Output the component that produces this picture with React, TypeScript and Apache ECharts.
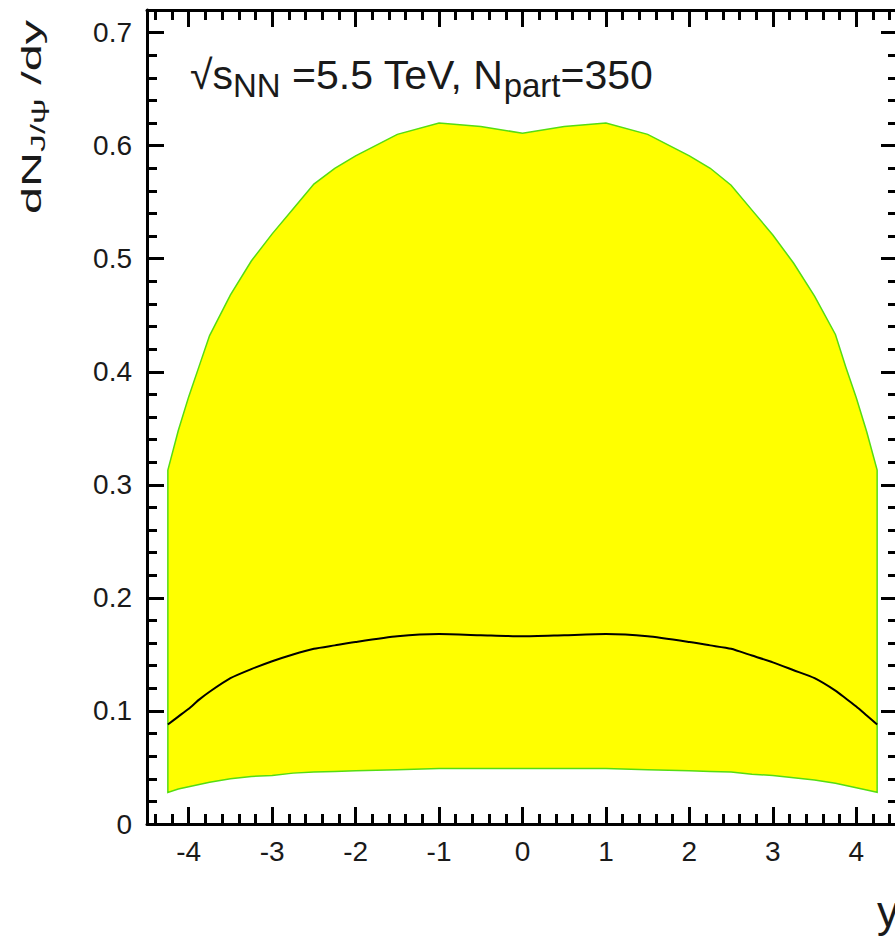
import React, { useEffect, useRef } from "react";
import * as echarts from "echarts";

// Rapidity grid (x) and J/psi yields
const rapidity = [-4.25, -4.125, -4, -3.875, -3.75, -3.5, -3.25, -3, -2.75, -2.5, -2.25, -2, -1.5, -1, -0.5, 0, 0.5, 1, 1.5, 2, 2.25, 2.5, 2.75, 3, 3.25, 3.5, 3.75, 3.875, 4, 4.125, 4.25];
const upperBand = [0.313, 0.348, 0.378, 0.405, 0.432, 0.468, 0.498, 0.522, 0.544, 0.566, 0.580, 0.591, 0.610, 0.620, 0.617, 0.611, 0.617, 0.620, 0.610, 0.591, 0.580, 0.565, 0.543, 0.521, 0.496, 0.467, 0.433, 0.404, 0.377, 0.347, 0.313];
const centralLine = [0.088, 0.095, 0.102, 0.110, 0.117, 0.129, 0.137, 0.144, 0.150, 0.155, 0.158, 0.161, 0.166, 0.168, 0.167, 0.166, 0.167, 0.168, 0.166, 0.161, 0.158, 0.155, 0.149, 0.143, 0.136, 0.129, 0.118, 0.111, 0.104, 0.096, 0.088];
const lowerBand = [0.028, 0.031, 0.033, 0.035, 0.037, 0.040, 0.042, 0.043, 0.045, 0.046, 0.0465, 0.047, 0.048, 0.049, 0.049, 0.049, 0.049, 0.049, 0.048, 0.047, 0.0465, 0.046, 0.044, 0.043, 0.041, 0.039, 0.036, 0.034, 0.032, 0.030, 0.028];

// Tick values
const xMajorTicks = [-4, -3, -2, -1, 0, 1, 2, 3, 4];
const xMinorTicks = [-4.4, -4.2, -3.8, -3.6, -3.4, -3.2, -2.8, -2.6, -2.4, -2.2, -1.8, -1.6, -1.4, -1.2, -0.8, -0.6, -0.4, -0.2, 0.2, 0.4, 0.6, 0.8, 1.2, 1.4, 1.6, 1.8, 2.2, 2.4, 2.6, 2.8, 3.2, 3.4, 3.6, 3.8, 4.2, 4.4];
const yMajorTicks = [0, 0.1, 0.2, 0.3, 0.4, 0.5, 0.6, 0.7];
const yMinorTicks = [0.02, 0.04, 0.06, 0.08, 0.12, 0.14, 0.16, 0.18, 0.22, 0.24, 0.26, 0.28, 0.32, 0.34, 0.36, 0.38, 0.42, 0.44, 0.46, 0.48, 0.52, 0.54, 0.56, 0.58, 0.62, 0.64, 0.66, 0.68];

const X_MIN = -4.5;
const X_MAX = 4.5;
const Y_MIN = 0;
const Y_MAX = 0.72;

const FONT = "Liberation Sans, Arial, sans-serif";
const INK = "#1a1a1a";

export default function App() {
  const ref = useRef<HTMLDivElement>(null);

  useEffect(() => {
    if (!ref.current) return;
    const chart = echarts.init(ref.current, null, { renderer: "svg" });

    const gridRect = { left: 147, top: 10, right: 12, bottom: 116 };

    const lineStyle = { color: "#000", width: 3 };
    const majorX = (pos: string, labels: boolean, grid: number) => ({
      type: "value",
      gridIndex: grid,
      position: pos,
      min: X_MIN,
      max: X_MAX,
      axisLine: { show: true, onZero: false, lineStyle },
      axisTick: { show: true, inside: true, length: 17, customValues: xMajorTicks, lineStyle: { color: "#000", width: 3 } },
      axisLabel: labels
        ? { show: true, customValues: xMajorTicks, fontSize: 28, fontFamily: FONT, color: INK, margin: 13 }
        : { show: false },
      splitLine: { show: false },
    });
    const minorX = (pos: string, grid: number) => ({
      type: "value",
      gridIndex: grid,
      position: pos,
      min: X_MIN,
      max: X_MAX,
      axisLine: { show: false, onZero: false },
      axisTick: { show: true, inside: true, length: 10, customValues: xMinorTicks, lineStyle: { color: "#000", width: 3 } },
      axisLabel: { show: false },
      splitLine: { show: false },
    });
    const majorY = (pos: string, labels: boolean, grid: number) => ({
      type: "value",
      gridIndex: grid,
      position: pos,
      min: Y_MIN,
      max: Y_MAX,
      axisLine: { show: true, onZero: false, lineStyle },
      axisTick: { show: true, inside: true, length: 17, customValues: yMajorTicks, lineStyle: { color: "#000", width: 3 } },
      axisLabel: labels
        ? { show: true, customValues: yMajorTicks, fontSize: 28, fontFamily: FONT, color: INK, margin: 15 }
        : { show: false },
      splitLine: { show: false },
    });
    const minorY = (pos: string, grid: number) => ({
      type: "value",
      gridIndex: grid,
      position: pos,
      min: Y_MIN,
      max: Y_MAX,
      axisLine: { show: false, onZero: false },
      axisTick: { show: true, inside: true, length: 10, customValues: yMinorTicks, lineStyle: { color: "#000", width: 3 } },
      axisLabel: { show: false },
      splitLine: { show: false },
    });

    chart.setOption({
      animation: false,
      backgroundColor: "#ffffff",
      grid: [
        { ...gridRect, containLabel: false },
        { ...gridRect, containLabel: false },
      ],
      xAxis: [majorX("bottom", true, 0), majorX("top", false, 0), minorX("bottom", 1), minorX("top", 1)],
      yAxis: [majorY("left", true, 0), majorY("right", false, 0), minorY("left", 1), minorY("right", 1)],
      graphic: [
        {
          type: "text",
          x: 190,
          y: 54,
          z: 100,
          style: {
            text: "{m|√s}{s|NN}{m| =5.5 TeV, N}{s|part}{m|=350}",
            verticalAlign: "top",
            align: "left",
            rich: {
              m: { fontSize: 41, fontFamily: FONT, fill: INK, lineHeight: 48, verticalAlign: "top", padding: [0, 0, 8, 0] },
              s: { fontSize: 33, fontFamily: FONT, fill: INK, lineHeight: 34, verticalAlign: "bottom" },
            },
          },
        },
        {
          type: "text",
          x: 18,
          y: 117,
          rotation: Math.PI / 2,
          scaleX: 1.8,
          scaleY: 1,
          z: 100,
          style: {
            text: "{m|dN}{s|J/ψ}{m| /dy}",
            align: "center",
            verticalAlign: "top",
            rich: {
              m: { fontSize: 27, fontFamily: FONT, fill: INK, lineHeight: 30, verticalAlign: "top", padding: [0, 0, 21, 0] },
              s: { fontSize: 20, fontFamily: FONT, fill: INK, lineHeight: 20, verticalAlign: "bottom" },
            },
          },
        },
        {
          type: "text",
          x: 877,
          y: 889,
          z: 100,
          style: { text: "y", fontSize: 44, fontFamily: FONT, fill: INK, verticalAlign: "top", align: "left" },
        },
      ],
      series: [
        {
          type: "custom",
          coordinateSystem: "cartesian2d",
          xAxisIndex: 0,
          yAxisIndex: 0,
          silent: true,
          clip: true,
          z: 1,
          data: [[0, 0]],
          renderItem: (_params: any, api: any) => {
            const pts: number[][] = [];
            for (let i = 0; i < rapidity.length; i++) pts.push(api.coord([rapidity[i], upperBand[i]]));
            for (let i = rapidity.length - 1; i >= 0; i--) pts.push(api.coord([rapidity[i], lowerBand[i]]));
            return {
              type: "polygon",
              shape: { points: pts },
              style: { fill: "#ffff00", stroke: "#55dd11", lineWidth: 1.5 },
            };
          },
        },
        {
          type: "line",
          xAxisIndex: 0,
          yAxisIndex: 0,
          data: rapidity.map((x, i) => [x, centralLine[i]]),
          showSymbol: false,
          smooth: 0.2,
          z: 3,
          lineStyle: { color: "#000", width: 2 },
        },
      ],
    });

    return () => chart.dispose();
  }, []);

  return (
    <div
      ref={ref}
      style={{ position: "fixed", left: 0, top: 0, width: 910, height: 940, background: "#fff" }}
    />
  );
}
